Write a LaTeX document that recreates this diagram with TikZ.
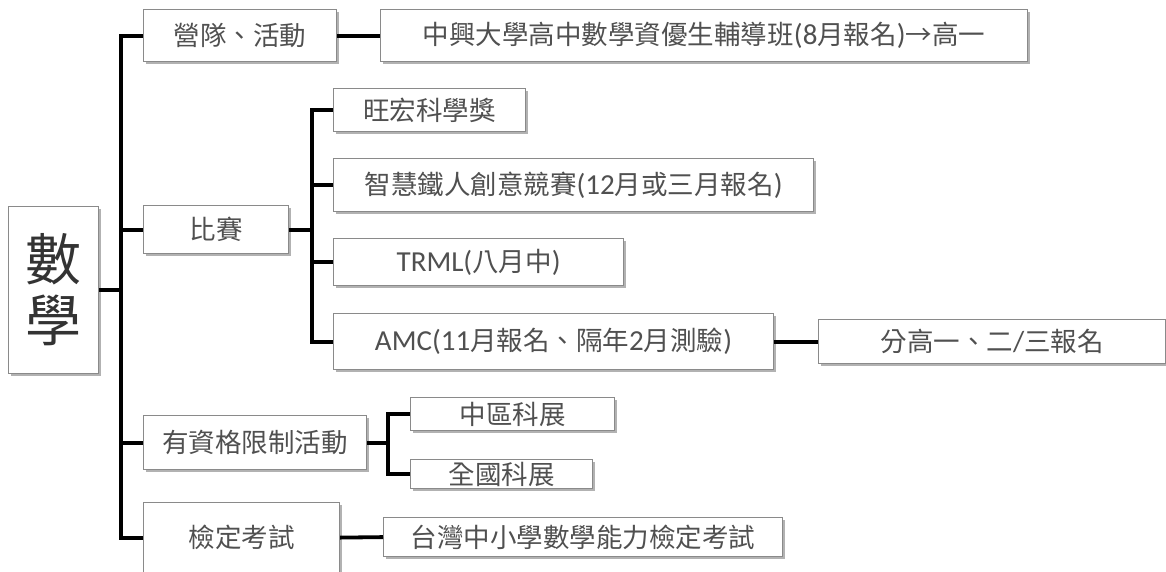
\documentclass[tikz,border=0pt]{standalone}
\usepackage{fontspec}
\setmainfont{Carlito}
\newfontfamily\cjk{Noto Sans CJK TC}
\usetikzlibrary{shadows}
\newcommand\lat[1]{{\rmfamily\fontsize{29}{30}\selectfont #1}}
\definecolor{txt}{HTML}{505050}
\definecolor{bord}{HTML}{8A8A8A}
\tikzset{
  box/.style={draw=bord, line width=1.2pt, fill=white, text=txt,
    font=\cjk\fontsize{26.5}{30}\selectfont, inner sep=0pt, anchor=north west,
    drop shadow={shadow xshift=2pt, shadow yshift=-2.5pt, fill=black, opacity=0.3}},
  conn/.style={line width=3.8pt, black}
}
\begin{document}
\begin{tikzpicture}[x=1pt,y=-1pt]
\useasboundingbox (0,0) rectangle (1166,571);
\fill[white] (0,0) rectangle (1166,571);
% level 0
\node[box, minimum width=90pt, minimum height=167pt, align=center,
      font=\cjk\fontsize{56}{61}\selectfont, text=black!80] (root) at (8,206) {數\\學};
% level 1
\node[box, minimum width=193pt, minimum height=52pt] (camp) at (143,9) {營隊、活動};
\node[box, minimum width=145pt, minimum height=48pt] (comp) at (143,205) {比賽};
\node[box, minimum width=223pt, minimum height=54pt] (qual) at (143,415) {有資格限制活動};
\node[box, minimum width=196pt, minimum height=70pt] (exam) at (143,502) {檢定考試};
% level 2
\node[box, minimum width=647pt, minimum height=52pt] (camp2) at (380,9)
  {中興大學高中數學資優生輔導班\lat{(8}月報名\lat{)}→高一};
\node[box, minimum width=192pt, minimum height=43pt] (wh) at (333,88) {旺宏科學獎};
\node[box, minimum width=480pt, minimum height=53pt] (smart) at (333,158)
  {智慧鐵人創意競賽\lat{(12}月或三月報名\lat{)}};
\node[box, minimum width=290pt, minimum height=47pt] (trml) at (333,238)
  {\lat{TRML(}八月中\lat{)}};
\node[box, minimum width=440pt, minimum height=56pt] (amc) at (333,313)
  {\lat{AMC(11}月報名、隔年\lat{2}月測驗\lat{)}};
\node[box, minimum width=347pt, minimum height=44pt] (amc2) at (818,319)
  {分高一、二\lat{/}三報名};
\node[box, minimum width=204pt, minimum height=33pt] (mid) at (410,397) {中區科展};
\node[box, minimum width=182pt, minimum height=29pt] (nat) at (410,459) {全國科展};
\node[box, minimum width=399pt, minimum height=39pt] (exam2) at (383,517)
  {台灣中小學數學能力檢定考試};
% connectors
\draw[conn] (root.east) -- ++(22,0) |- (camp.west);
\draw[conn] (root.east) -- ++(22,0) |- (comp.west);
\draw[conn] (root.east) -- ++(22,0) |- (qual.west);
\draw[conn] (root.east) -- ++(22,0) |- (exam.west);
\draw[conn] (camp.east) -- (camp2.west);
\draw[conn] (comp.east) -- ++(23,0) |- (wh.west);
\draw[conn] (comp.east) -- ++(23,0) |- (smart.west);
\draw[conn] (comp.east) -- ++(23,0) |- (trml.west);
\draw[conn] (comp.east) -- ++(23,0) |- (amc.west);
\draw[conn] (amc.east) -- (amc2.west);
\draw[conn] (qual.east) -- ++(21,0) |- (mid.west);
\draw[conn] (qual.east) -- ++(21,0) |- (nat.west);
\draw[conn] (exam.east) -- (exam2.west);
\end{tikzpicture}
\end{document}
